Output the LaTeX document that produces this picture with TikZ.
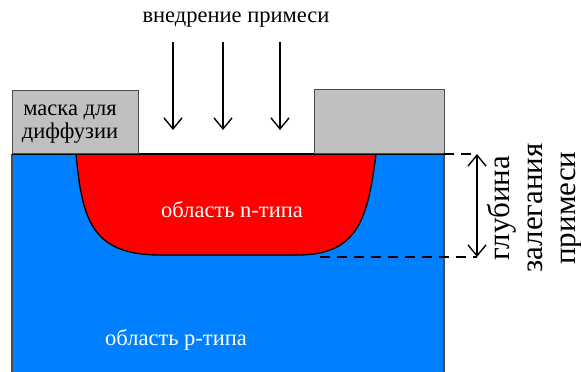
\documentclass[tikz,border=0pt]{standalone}
\usepackage{fontspec}
\setmainfont{Liberation Serif}
\usetikzlibrary{arrows.meta}
\definecolor{maskgray}{RGB}{192,192,192}
\definecolor{pblue}{RGB}{0,128,255}
\definecolor{nred}{RGB}{255,0,0}
\begin{document}
\begin{tikzpicture}[x=1pt,y=-1pt,
  mask/.style={fill=maskgray,draw=black!70,line width=1pt},
  implant/.style={line width=1.4pt,-{Straight Barb[length=11pt,width=18pt,line width=1.4pt]}},
  dimline/.style={line width=1.4pt,{Straight Barb[length=11pt,width=18pt,line width=1.4pt]}-{Straight Barb[length=11pt,width=18pt,line width=1.4pt]}},
  guide/.style={line width=1.6pt,dash pattern=on 10pt off 7pt},
  lbl/.style={inner sep=0pt,font=\fontsize{22.5}{23}\selectfont}]
\useasboundingbox (0,0) rectangle (581,372);
% substrate
\fill[pblue] (12,154) rectangle (444,372);
\draw[black!70,line width=1.5pt] (12,372) -- (12,154) (444,154) -- (444,372);
% n region
\draw[fill=nred,line width=1.3pt] (76,154) .. controls (82,220) and (92,255) .. (160,255) -- (298,255) .. controls (360,255) and (368,215) .. (376,154);
\draw[line width=1.5pt] (12,154) -- (444,154);
% masks
\node[mask,minimum width=126pt,minimum height=63pt,anchor=south west,inner sep=0pt] (lm) at (12,154) {};
\node[mask,minimum width=130pt,minimum height=64pt,anchor=south west,inner sep=0pt] (rm) at (314,154) {};
\node[lbl,align=center] (ml) at (70,124) {маска для\\диффузии};
% implant
\node[lbl] (imp) at (236,20) {внедрение примеси};
\coordinate (a1s) at (173,42); \coordinate (a1e) at (173,130);
\coordinate (a2s) at (223,42); \coordinate (a2e) at (223,130);
\coordinate (a3s) at (280,42); \coordinate (a3e) at (280,130);
\draw[implant] (a1s) -- (a1e);
\draw[implant] (a2s) -- (a2e);
\draw[implant] (a3s) -- (a3e);
% region labels
\node[lbl,text=white] (nl) at (232,210) {область n-типа};
\node[lbl,text=white] (pl) at (176,340) {область p-типа};
% depth guides
\coordinate (g1a) at (444,154); \coordinate (g1b) at (477,154);
\coordinate (g2a) at (320,257); \coordinate (g2b) at (477,257);
\draw[guide] (g1a) -- (g1b);
\draw[guide] (g2a) -- (g2b);
\coordinate (d1) at (477,154); \coordinate (d2) at (477,257);
\draw[dimline] (d1) -- (d2);
\node[rotate=90,align=center,inner sep=0pt,font=\fontsize{31}{33}\selectfont] (dl) at (535,208) {глубина\\залегания\\примеси};
\end{tikzpicture}
\end{document}
